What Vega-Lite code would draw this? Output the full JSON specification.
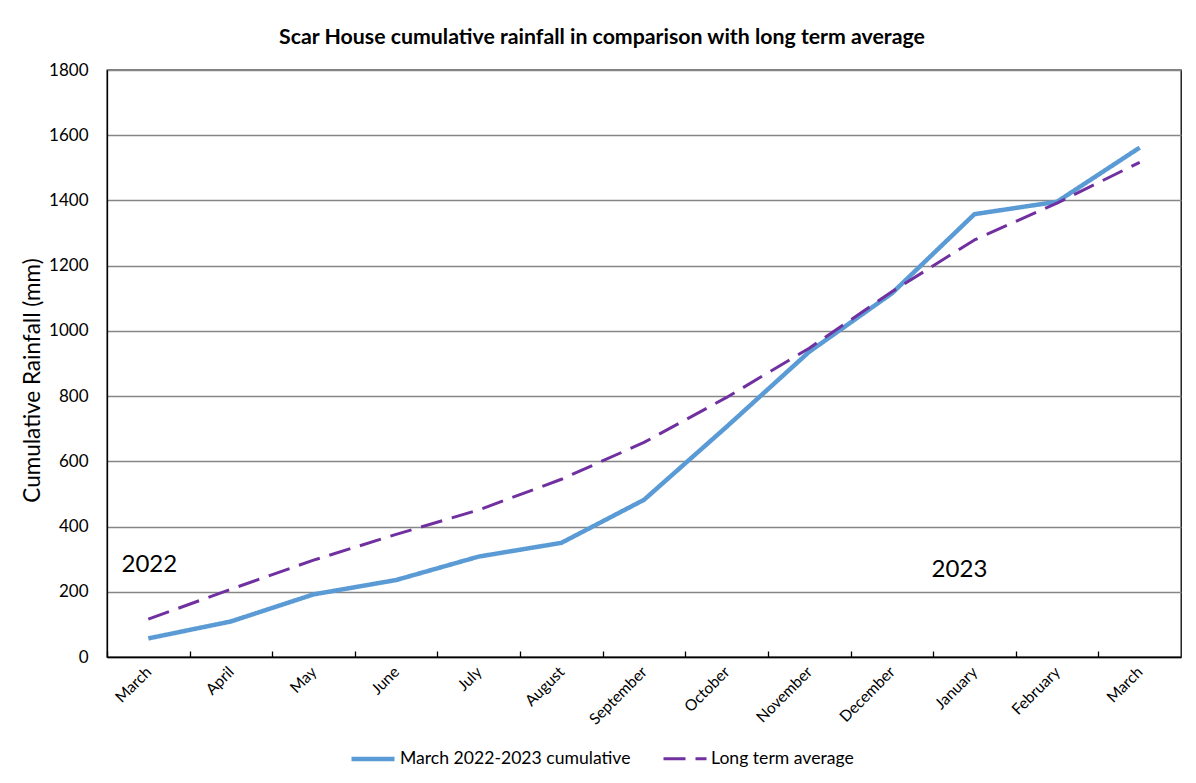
{
  "$schema": "https://vega.github.io/schema/vega-lite/v6.json",
  "autosize": "none",
  "width": 1074,
  "height": 587,
  "padding": {"left": 107, "top": 70, "right": 15, "bottom": 126},
  "background": "white",
  "config": {
    "font": "Lato, sans-serif",
    "view": {"stroke": "#000000", "strokeWidth": 1.3}
  },
  "title": {
    "text": "Scar House cumulative rainfall in comparison with long term average",
    "fontSize": 21.3,
    "fontWeight": "bold",
    "color": "#000000",
    "anchor": "middle",
    "dx": -42,
    "offset": 13
  },
  "datasets": {
    "rain": [
      {"month": "March 2022", "series": "March 2022-2023 cumulative", "mm": 57},
      {"month": "April 2022", "series": "March 2022-2023 cumulative", "mm": 109},
      {"month": "May 2022", "series": "March 2022-2023 cumulative", "mm": 192},
      {"month": "June 2022", "series": "March 2022-2023 cumulative", "mm": 236},
      {"month": "July 2022", "series": "March 2022-2023 cumulative", "mm": 308},
      {"month": "August 2022", "series": "March 2022-2023 cumulative", "mm": 350},
      {"month": "September 2022", "series": "March 2022-2023 cumulative", "mm": 482},
      {"month": "October 2022", "series": "March 2022-2023 cumulative", "mm": 706},
      {"month": "November 2022", "series": "March 2022-2023 cumulative", "mm": 936},
      {"month": "December 2022", "series": "March 2022-2023 cumulative", "mm": 1115},
      {"month": "January 2023", "series": "March 2022-2023 cumulative", "mm": 1358},
      {"month": "February 2023", "series": "March 2022-2023 cumulative", "mm": 1396},
      {"month": "March 2023", "series": "March 2022-2023 cumulative", "mm": 1562},
      {"month": "March 2022", "series": "Long term average", "mm": 116},
      {"month": "April 2022", "series": "Long term average", "mm": 208},
      {"month": "May 2022", "series": "Long term average", "mm": 297},
      {"month": "June 2022", "series": "Long term average", "mm": 376},
      {"month": "July 2022", "series": "Long term average", "mm": 451},
      {"month": "August 2022", "series": "Long term average", "mm": 545},
      {"month": "September 2022", "series": "Long term average", "mm": 658},
      {"month": "October 2022", "series": "Long term average", "mm": 796},
      {"month": "November 2022", "series": "Long term average", "mm": 947},
      {"month": "December 2022", "series": "Long term average", "mm": 1120},
      {"month": "January 2023", "series": "Long term average", "mm": 1279},
      {"month": "February 2023", "series": "Long term average", "mm": 1392},
      {"month": "March 2023", "series": "Long term average", "mm": 1517}
    ],
    "years": [
      {"month": "March 2022", "mm": 282, "label": "2022"},
      {"month": "January 2023", "mm": 267, "label": "2023"}
    ]
  },
  "encoding": {
    "x": {
      "field": "month",
      "type": "ordinal",
      "sort": ["March 2022", "April 2022", "May 2022", "June 2022", "July 2022", "August 2022", "September 2022", "October 2022", "November 2022", "December 2022", "January 2023", "February 2023", "March 2023"],
      "scale": {"type": "point", "padding": 0.5},
      "axis": {
        "title": null,
        "labelExpr": "split(datum.value, ' ')[0]",
        "labelAngle": -45,
        "labelAlign": "right",
        "labelBaseline": "middle",
        "labelFontSize": 15.5,
        "labelColor": "#000000",
        "labelPadding": 18,
        "labelOffset": 41.3,
        "ticks": true,
        "tickSize": -6,
        "tickOffset": -41.3,
        "tickColor": "#000000",
        "tickWidth": 1.3,
        "domainColor": "#000000",
        "domainWidth": 1.3,
        "grid": false
      }
    },
    "y": {
      "field": "mm",
      "type": "quantitative",
      "scale": {"domain": [0, 1800], "nice": false},
      "axis": {
        "title": "Cumulative Rainfall (mm)",
        "titleFontSize": 22.5,
        "titleFontWeight": "normal",
        "titleColor": "#000000",
        "titleX": -75,
        "titleY": 310,
        "titleAngle": -90,
        "titleAlign": "center",
        "titleBaseline": "middle",
        "values": [0, 200, 400, 600, 800, 1000, 1200, 1400, 1600, 1800],
        "format": "d",
        "labelFontSize": 17,
        "labelColor": "#000000",
        "labelPadding": 19,
        "ticks": false,
        "domainColor": "#000000",
        "domainWidth": 1.3,
        "grid": true,
        "gridColor": "#868686",
        "gridWidth": 1.3
      }
    }
  },
  "layer": [
    {
      "data": {"name": "rain"},
      "mark": {"type": "line", "strokeCap": "butt", "strokeJoin": "round"},
      "encoding": {
        "color": {
          "field": "series",
          "type": "nominal",
          "scale": {"domain": ["March 2022-2023 cumulative", "Long term average"], "range": ["#5B9BD5", "#7030A0"]},
          "legend": {
            "title": null,
            "orient": "none",
            "direction": "horizontal",
            "legendX": 242,
            "legendY": 665,
            "symbolType": "stroke",
            "symbolSize": 1849,
            "symbolStrokeWidth": 4,
            "labelFontSize": 17.6,
            "labelColor": "#000000",
            "labelOffset": 3,
            "labelLimit": 400,
            "columnPadding": 26
          }
        },
        "strokeDash": {
          "field": "series",
          "type": "nominal",
          "scale": {"domain": ["March 2022-2023 cumulative", "Long term average"], "range": [[1, 0], [22, 10]]},
          "legend": {
            "title": null,
            "orient": "none",
            "direction": "horizontal",
            "legendX": 242,
            "legendY": 665,
            "symbolType": "stroke",
            "symbolSize": 1849,
            "symbolStrokeWidth": 4,
            "labelFontSize": 17.6,
            "labelColor": "#000000",
            "labelOffset": 3,
            "labelLimit": 400,
            "columnPadding": 26
          }
        },
        "strokeWidth": {
          "field": "series",
          "type": "nominal",
          "scale": {"domain": ["March 2022-2023 cumulative", "Long term average"], "range": [4.5, 3]},
          "legend": null
        }
      }
    },
    {
      "data": {"name": "years"},
      "transform": [{"filter": "datum.label == '2022'"}],
      "mark": {"type": "text", "fontSize": 24, "color": "#000000", "align": "center", "baseline": "middle", "dx": 1},
      "encoding": {"text": {"field": "label"}}
    },
    {
      "data": {"name": "years"},
      "transform": [{"filter": "datum.label == '2023'"}],
      "mark": {"type": "text", "fontSize": 24, "color": "#000000", "align": "center", "baseline": "middle", "dx": -15},
      "encoding": {"text": {"field": "label"}}
    }
  ]
}
